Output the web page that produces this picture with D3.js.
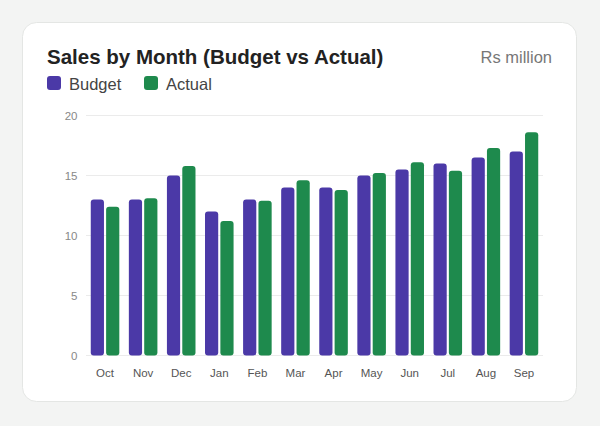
<!DOCTYPE html>
<html>
<head>
<meta charset="utf-8">
<script src="https://cdn.jsdelivr.net/npm/d3@7"></script>
<style>
  html, body { margin: 0; padding: 0; background: #f3f4f3; }
  svg { display: block; font-family: "Liberation Sans", Arial, Helvetica, sans-serif; }
</style>
</head>
<body>
<div id="container"></div>
<script>
const months = ["Oct", "Nov", "Dec", "Jan", "Feb", "Mar", "Apr", "May", "Jun", "Jul", "Aug", "Sep"];
const budget = [13, 13, 15, 12, 13, 14, 14, 15, 15.5, 16, 16.5, 17];
const actual = [12.4, 13.1, 15.8, 11.2, 12.9, 14.6, 13.8, 15.2, 16.1, 15.4, 17.3, 18.6];
const seriesNames = ["Budget", "Actual"];
const yTicks = [0, 5, 10, 15, 20];

const colors = { Budget: "#4b39a7", Actual: "#1e8a4d" };
const width = 600, height = 426;

let svg = d3.select("#container")
  .append("svg")
  .attr("width", width)
  .attr("height", height);

// card
svg.append("rect")
  .attr("x", 22.5).attr("y", 22.5)
  .attr("width", 554).attr("height", 379)
  .attr("rx", 14)
  .attr("fill", "#fff")
  .attr("stroke", "#e4e6e4");

svg.append("text")
  .attr("x", 47).attr("y", 63.5)
  .attr("font-size", 20.5)
  .attr("font-weight", "bold")
  .attr("fill", "#222")
  .text("Sales by Month (Budget vs Actual)");

svg.append("text")
  .attr("x", 552).attr("y", 63)
  .attr("text-anchor", "end")
  .attr("font-size", 16.5)
  .attr("fill", "#777")
  .text("Rs million");

// legend
let legend = svg.append("g").selectAll("g")
  .data(seriesNames)
  .join("g")
  .attr("transform", (d, i) => `translate(${47 + i * 97},76)`);

legend.append("rect")
  .attr("width", 14).attr("height", 14)
  .attr("rx", 3)
  .attr("fill", d => colors[d]);

legend.append("text")
  .attr("x", 22).attr("y", 13.5)
  .attr("font-size", 16.5)
  .attr("fill", "#444")
  .text(d => d);

// scales
const x0 = d3.scaleBand().domain(months).range([86, 543]).paddingInner(0.25).paddingOuter(0.125);
const x1 = d3.scaleBand().domain(seriesNames).range([0, x0.bandwidth()]).paddingInner(0.14);
const y = d3.scaleLinear().domain([0, 20]).range([355.5, 115.5]);

// grid
svg.append("g").selectAll("line")
  .data(yTicks)
  .join("line")
  .attr("x1", 86).attr("x2", 543)
  .attr("y1", d => y(d)).attr("y2", d => y(d))
  .attr("stroke", "#ebebeb");

let yAxis = svg.append("g")
  .attr("transform", "translate(77.5,0)")
  .call(d3.axisLeft(y).tickValues(yTicks).tickSize(0).tickPadding(0));
yAxis.select(".domain").remove();
yAxis.selectAll("text")
  .attr("font-size", 11.5)
  .attr("fill", "#888")
  .attr("font-family", "Liberation Sans, Arial, sans-serif");

let xAxis = svg.append("g")
  .attr("transform", "translate(0,368.5)")
  .call(d3.axisBottom(x0).tickSize(0).tickPadding(0));
xAxis.select(".domain").remove();
xAxis.selectAll("text")
  .attr("font-size", 11.5)
  .attr("fill", "#555")
  .attr("font-family", "Liberation Sans, Arial, sans-serif");

// bars
let rows = months.map((m, i) => ({ month: m, Budget: budget[i], Actual: actual[i] }));

svg.append("g").selectAll("g")
  .data(rows)
  .join("g")
  .attr("transform", d => `translate(${x0(d.month)},0)`)
  .selectAll("path")
  .data(d => seriesNames.map(k => ({ key: k, value: d[k] })))
  .join("path")
  .attr("fill", d => colors[d.key])
  .attr("d", d => {
    let bx = x1(d.key), bw = x1.bandwidth(), top = y(d.value), bot = y(0), r = 3;
    let p = d3.path();
    p.moveTo(bx, bot - r);
    p.lineTo(bx, top + r);
    p.quadraticCurveTo(bx, top, bx + r, top);
    p.lineTo(bx + bw - r, top);
    p.quadraticCurveTo(bx + bw, top, bx + bw, top + r);
    p.lineTo(bx + bw, bot - r);
    p.quadraticCurveTo(bx + bw, bot, bx + bw - r, bot);
    p.lineTo(bx + r, bot);
    p.quadraticCurveTo(bx, bot, bx, bot - r);
    p.closePath();
    return p.toString();
  });
</script>
</body>
</html>
